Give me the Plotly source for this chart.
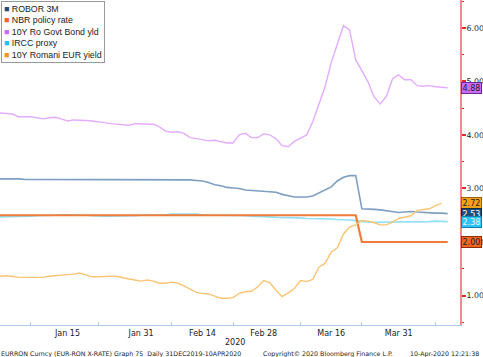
import pandas as pd
import plotly.graph_objects as go

dates = pd.bdate_range("2019-12-31", "2020-04-10")

robor_3m = [3.18, 3.18, 3.19, 3.18, 3.17, 3.17, 3.17, 3.17, 3.17, 3.17,
            3.17, 3.16, 3.16, 3.16, 3.16, 3.16, 3.16, 3.16, 3.16, 3.17,
            3.17, 3.17, 3.17, 3.16, 3.16, 3.16, 3.17, 3.16, 3.16, 3.16,
            3.16, 3.16, 3.15, 3.14, 3.11, 3.07, 3.05, 3.02, 3.01, 3.00,
            2.97, 2.96, 2.95, 2.95, 2.94, 2.93, 2.89, 2.87, 2.84, 2.84,
            2.84, 2.86, 2.92, 2.98, 3.03, 3.14, 3.21, 3.24, 3.24, 2.62,
            2.62, 2.61, 2.60, 2.58, 2.56, 2.55, 2.56, 2.57, 2.56, 2.55,
            2.55, 2.54, 2.54, 2.53]

nbr_policy = [2.50, 2.50, 2.50, 2.50, 2.50, 2.50, 2.50, 2.50, 2.50, 2.50,
              2.50, 2.50, 2.50, 2.50, 2.50, 2.50, 2.50, 2.50, 2.50, 2.50,
              2.50, 2.50, 2.50, 2.50, 2.50, 2.50, 2.50, 2.50, 2.50, 2.50,
              2.50, 2.50, 2.50, 2.50, 2.50, 2.50, 2.50, 2.50, 2.50, 2.50,
              2.50, 2.50, 2.50, 2.50, 2.50, 2.50, 2.50, 2.50, 2.50, 2.50,
              2.50, 2.50, 2.50, 2.50, 2.50, 2.50, 2.50, 2.50, 2.50, 2.00,
              2.00, 2.00, 2.00, 2.00, 2.00, 2.00, 2.00, 2.00, 2.00, 2.00,
              2.00, 2.00, 2.00, 2.00]

ro_10y = [4.41, 4.40, 4.39, 4.34, 4.34, 4.34, 4.32, 4.30, 4.32, 4.33,
          4.30, 4.26, 4.28, 4.28, 4.27, 4.26, 4.25, 4.23, 4.21, 4.20,
          4.19, 4.18, 4.21, 4.21, 4.21, 4.20, 4.15, 4.07, 4.05, 4.06,
          4.03, 3.95, 3.93, 3.91, 3.89, 3.90, 3.88, 3.85, 3.85, 4.00,
          4.03, 3.95, 3.95, 4.02, 4.00, 3.93, 3.80, 3.78, 3.88, 3.94,
          4.00, 4.25, 4.58, 4.90, 5.35, 5.70, 6.04, 5.96, 5.40, 5.20,
          4.99, 4.71, 4.58, 4.72, 5.05, 5.12, 5.03, 5.03, 4.92, 4.91,
          4.92, 4.90, 4.89, 4.88]

ircc_proxy = [2.47, 2.47, 2.47, 2.47, 2.48, 2.48, 2.49, 2.49, 2.50, 2.50,
              2.51, 2.51, 2.50, 2.50, 2.50, 2.49, 2.48, 2.48, 2.48, 2.48,
              2.49, 2.49, 2.49, 2.50, 2.50, 2.51, 2.51, 2.51, 2.52, 2.52,
              2.53, 2.53, 2.52, 2.51, 2.50, 2.50, 2.50, 2.50, 2.49, 2.49,
              2.49, 2.48, 2.48, 2.47, 2.47, 2.46, 2.46, 2.45, 2.45, 2.45,
              2.44, 2.44, 2.44, 2.43, 2.43, 2.42, 2.42, 2.41, 2.40, 2.38,
              2.37, 2.37, 2.37, 2.37, 2.37, 2.37, 2.38, 2.38, 2.38, 2.38,
              2.38, 2.39, 2.38, 2.38]

eur_10y = [1.36, 1.37, 1.36, 1.34, 1.34, 1.34, 1.34, 1.34, 1.36, 1.37,
           1.37, 1.38, 1.40, 1.42, 1.39, 1.35, 1.35, 1.36, 1.36, 1.36,
           1.33, 1.31, 1.29, 1.27, 1.29, 1.27, 1.23, 1.23, 1.25, 1.23,
           1.18, 1.12, 1.06, 1.04, 1.03, 0.99, 0.95, 0.95, 0.96, 1.04,
           1.07, 1.08, 1.16, 1.28, 1.24, 1.10, 0.98, 1.05, 1.13, 1.28,
           1.26, 1.30, 1.53, 1.60, 1.81, 1.89, 2.15, 2.28, 2.32, 2.40,
           2.39, 2.36, 2.32, 2.32, 2.37, 2.44, 2.47, 2.49, 2.59, 2.60,
           2.62, 2.68, 2.72]

series_names = ["ROBOR 3M", "NBR policy rate", "10Y Ro Govt Bond yld",
                "IRCC proxy", "10Y Romani EUR yield"]
tick_dates = ["2020-01-15", "2020-01-31", "2020-02-14", "2020-02-28",
              "2020-03-16", "2020-03-31"]
tick_labels = ["Jan 15", "Jan 31", "Feb 14", "Feb 28", "Mar 16", "Mar 31"]
minor_x_dates = ["2020-01-07", "2020-01-22", "2020-02-07", "2020-02-21",
                 "2020-03-09", "2020-03-23", "2020-04-08"]

line_colors = ["#7f9fc2", "#f07c3a", "#e4acff", "#8fe0f7", "#fbc474"]
key_colors = ["#1f4e79", "#f26522", "#cc66ff", "#22c0f0", "#f7941d"]
tag_fill = ["#1f4e79", "#f26522", "#c86ef5", "#2cc4f2", "#f7a21b"]
tag_text = ["white", "#222", "#222", "#e8f8ff", "#222"]
tag_border = ["#0d2a45", "#8a3000", "#6a2b9a", "#1080b0", "#a06000"]

FONT = "DejaVu Sans"
LFONT = "Liberation Sans"
all_series = [robor_3m, nbr_policy, ro_10y, ircc_proxy, eur_10y]
widths = [1.6, 2.2, 1.4, 1.6, 1.4]
draw_order = [2, 0, 3, 1, 4]

fig = go.Figure()
for k in draw_order:
    vals = all_series[k]
    fig.add_trace(go.Scatter(
        x=dates[:len(vals)], y=vals, mode="lines", name=series_names[k],
        line=dict(color=line_colors[k], width=widths[k]), showlegend=False))

# value tags on the right axis
for k in [2, 4, 0, 3, 1]:
    v = all_series[k][-1]
    fig.add_annotation(
        xref="paper", x=1, xanchor="left", xshift=1, yref="y", y=v,
        text=f"{v:.2f}", showarrow=False,
        font=dict(family=FONT, size=8, color=tag_text[k]),
        bgcolor=tag_fill[k], bordercolor=tag_border[k], borderwidth=1,
        borderpad=0.5)

# legend box
legend_lines = "<br>".join(
    f"<span style='color:{key_colors[k]}'>■</span> {series_names[k]}"
    for k in range(5))
fig.add_annotation(
    xref="paper", yref="paper", x=0.003, y=0.997, xanchor="left",
    yanchor="top", align="left", text=legend_lines, showarrow=False,
    font=dict(family=LFONT, size=8.8, color="#222"), bgcolor="white",
    bordercolor="#9a9a9a", borderwidth=1, borderpad=2)

# footer texts
fig.add_annotation(xref="paper", yref="paper", x=0.51, y=-0.035,
                   text="2020", showarrow=False, yanchor="top",
                   font=dict(family=FONT, size=8, color="#222"))
fig.add_annotation(xref="paper", yref="paper", x=-0.002, y=-0.07,
                   xanchor="left", yanchor="top", showarrow=False,
                   text="EURRON Curncy (EUR-RON X-RATE) Graph 75  Daily 31DEC2019-10APR2020",
                   font=dict(family=FONT, size=6.3, color="#222"))
fig.add_annotation(xref="paper", yref="paper", x=0.568, y=-0.07,
                   xanchor="left", yanchor="top", showarrow=False,
                   text="Copyright© 2020 Bloomberg Finance L.P.",
                   font=dict(family=FONT, size=6.3, color="#222"))
fig.add_annotation(xref="paper", yref="paper", x=1.046, y=-0.07,
                   xanchor="right", yanchor="top", showarrow=False,
                   text="10-Apr-2020 12:21:38",
                   font=dict(family=FONT, size=6.3, color="#222"))

fig.update_layout(
    width=483, height=357,
    margin=dict(l=0, r=23, t=0, b=32, autoexpand=False),
    paper_bgcolor="white", plot_bgcolor="white",
    font=dict(family=FONT, size=8, color="#222"),
    showlegend=False,
    xaxis=dict(
        type="date", range=["2019-12-31", "2020-04-14"],
        rangebreaks=[dict(bounds=["sat", "mon"])],
        tickvals=tick_dates, ticktext=tick_labels, ticks="",
        minor=dict(tickvals=minor_x_dates, ticks="inside", ticklen=3,
                   tickcolor="#aecbeb", tickwidth=1),
        showgrid=False, zeroline=False, showline=True,
        linecolor="#aecbeb", linewidth=1, automargin=False,
        tickfont=dict(family=FONT, size=8, color="#222")),
    yaxis=dict(
        side="right", range=[0.45, 6.52], tickvals=[1, 2, 3, 4, 5, 6],
        tickformat=".2f", ticks="outside", ticklen=4, tickwidth=2,
        tickcolor="#e8262a", showgrid=False, zeroline=False,
        showline=True, linecolor="#f08a8e", linewidth=2, automargin=False,
        ticklabelstandoff=-1,
        minor=dict(tickvals=[0.5, 1.5, 2.5, 3.5, 4.5, 5.5, 6.5],
                   ticks="outside", ticklen=2, tickwidth=1,
                   tickcolor="#e8262a"),
        tickfont=dict(family=FONT, size=7.8, color="#222")),
)

fig.write_html("out.html",
               config={"displayModeBar": False},
               post_script="document.body.style.margin='0';"
                           "document.body.style.padding='0';")
